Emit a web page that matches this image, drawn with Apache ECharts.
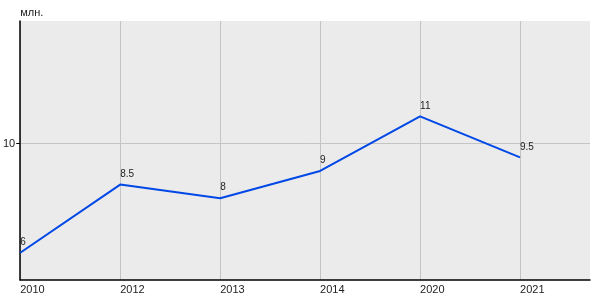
<!DOCTYPE html>
<html>
<head>
<meta charset="utf-8">
<script src="https://cdn.jsdelivr.net/npm/echarts@6/dist/echarts.min.js"></script>
<style>html,body{margin:0;padding:0;background:#fff}#c{width:600px;height:300px}</style>
</head>
<body>
<div id="c"></div>
<script>
const years = ['2010', '2012', '2013', '2014', '2020', '2021'];
const values = [6, 8.5, 8, 9, 11, 9.5];
const yTicks = [10];
const unitName = 'млн.';

const chart = echarts.init(document.getElementById('c'), null, {renderer: 'canvas'});
const pts = values.map((v, i) => [i, v]);
const font = 'Liberation Sans, Arial, sans-serif';
chart.setOption({
  animation: false,
  textStyle: {fontFamily: font},
  grid: {left: 20, right: 10, top: 21, bottom: 20, show: true, backgroundColor: '#ebebeb', borderWidth: 0},
  xAxis: {
    type: 'value', min: 0, max: 5.7,
    axisLine: {show: true, lineStyle: {color: '#000', width: 1.5}},
    axisTick: {show: false, customValues: years.map((y, i) => i)},
    axisLabel: {customValues: years.map((y, i) => i), formatter: v => years[v] ?? '', align: 'left', color: '#222', fontSize: 11, margin: 4, fontFamily: font},
    splitLine: {show: true, lineStyle: {color: '#c4c4c4', width: 1}}
  },
  yAxis: {
    type: 'value', min: 5, max: 14.5,
    name: unitName, nameLocation: 'end', nameGap: 3,
    nameTextStyle: {align: 'left', color: '#222', fontSize: 11, fontFamily: font},
    axisLine: {show: true, lineStyle: {color: '#000', width: 1.5}},
    axisTick: {show: true, length: 4, customValues: yTicks, lineStyle: {color: '#000'}},
    axisLabel: {customValues: yTicks, color: '#222', fontSize: 11, margin: 5, fontFamily: font},
    splitLine: {show: true, lineStyle: {color: '#c4c4c4', width: 1}}
  },
  series: [{
    type: 'line', data: pts, symbol: 'circle', symbolSize: 1, showSymbol: true,
    itemStyle: {color: 'rgba(0,0,0,0)'},
    lineStyle: {color: '#0048e6', width: 2},
    label: {show: true, position: 'top', align: 'left', distance: 5, color: '#222', fontSize: 10, fontFamily: font, formatter: p => p.value[1]}
  }]
});
</script>
</body>
</html>
